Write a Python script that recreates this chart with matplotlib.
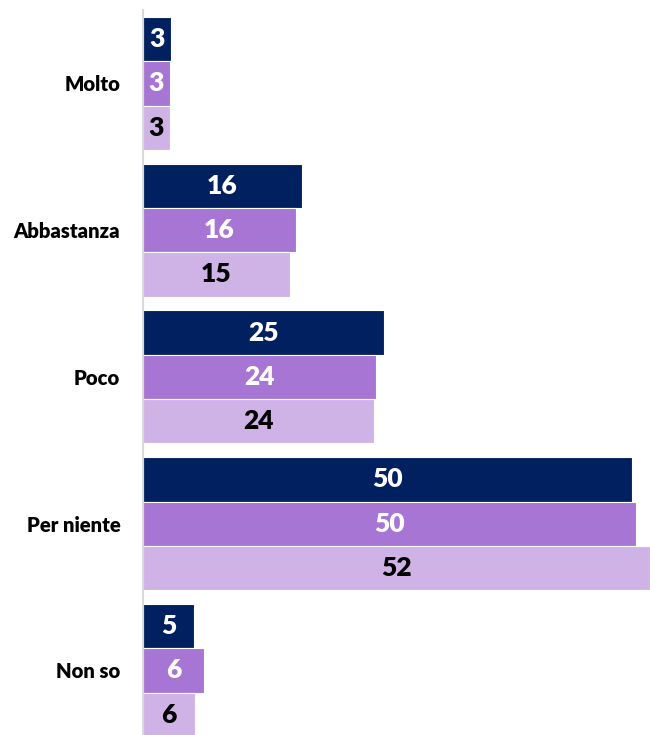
import matplotlib
matplotlib.use("Agg")
import matplotlib.pyplot as plt
import numpy as np

# categorie e serie (lunghezze stimate dalle barre, etichette arrotondate)
categorie = ["Molto", "Abbastanza", "Poco", "Per niente", "Non so"]
serie_1 = [2.9, 16.3, 24.7, 50.0, 5.3]
serie_2 = [2.8, 15.7, 23.8, 50.4, 6.3]
serie_3 = [2.8, 15.1, 23.6, 51.8, 5.4]
etichette_1 = [3, 16, 25, 50, 5]
etichette_2 = [3, 16, 24, 50, 6]
etichette_3 = [3, 15, 24, 52, 6]

colori = ["#002060", "#A775D3", "#D0B3E6"]
colori_testo = ["white", "white", "black"]

plt.rcParams["font.family"] = ["Lato", "DejaVu Sans"]

fig = plt.figure(figsize=(6.5, 7.35), dpi=100)
ax = fig.add_axes([142.5 / 650, 0.0, 1 - 142.5 / 650, 1 - 10 / 735])

y = np.arange(len(categorie))
h = 0.302
for i, (vals, labs) in enumerate(zip([serie_1, serie_2, serie_3],
                                     [etichette_1, etichette_2, etichette_3])):
    pos = y + (i - 1) * h
    bars = ax.barh(pos, vals, height=h, color=colori[i],
                   edgecolor="white", linewidth=0.8)
    for b, v, lab in zip(bars, vals, labs):
        ax.text(v / 2, b.get_y() + h / 2, str(lab), ha="center", va="center",
                color=colori_testo[i], fontsize=19, fontweight="heavy")

ax.set_xlim(0, 51.8)
ax.set_ylim(4.44, -0.5)
ax.set_yticks(y)
ax.set_yticklabels(categorie, fontsize=14.6, fontweight="heavy")
ax.tick_params(axis="y", length=0, pad=16)
ax.set_xticks([])
for s in ["top", "right", "bottom"]:
    ax.spines[s].set_visible(False)
ax.spines["left"].set_color("#d9d9d9")
ax.spines["left"].set_linewidth(1.5)

fig.savefig("out.png", dpi=100)
